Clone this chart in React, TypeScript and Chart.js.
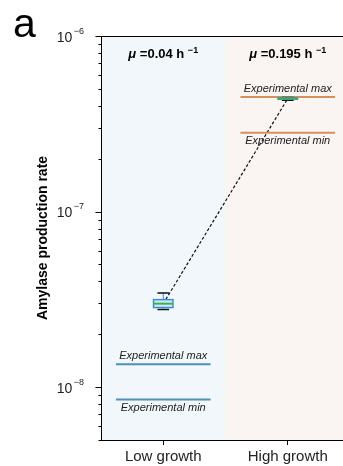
import React, { useEffect, useRef } from 'react';
import { Chart, registerables } from 'chart.js';

Chart.register(...registerables);

// ---- data ----
const CATEGORIES = ['Low growth', 'High growth'];
const MU_VALUES = ['0.04', '0.195'];
const EXP_MAX = [1.35e-8, 4.49e-7];
const EXP_MIN = [8.5e-9, 2.81e-7];
const WHISKER_LOW = [2.77e-8, 4.31e-7];
const BOX_Q1 = [2.84e-8, 4.36e-7];
const BOX_MEDIAN = [2.99e-8, 4.4e-7];
const BOX_Q3 = [3.15e-8, 4.44e-7];
const WHISKER_HIGH = [3.44e-8, 4.47e-7];
const Y_MIN = 5e-9;
const Y_MAX = 1e-6;
const Y_MAJOR_TICKS = [1e-8, 1e-7, 1e-6];
const Y_MAJOR_EXPONENTS = ['−8', '−7', '−6'];
const Y_DECADES = [1e-9, 1e-8, 1e-7];
const Y_MINOR_MULTIPLIERS = [2, 3, 4, 5, 6, 7, 8, 9];
const REF_LABELS = ['Experimental max', 'Experimental min'];
const PANEL_LETTER = 'a';
const Y_TITLE = 'Amylase production rate';

// ---- styles ----
const FONT = '"Liberation Sans", Arial, Helvetica, sans-serif';
const REGION_COLORS = ['#f1f7fa', '#faf5f2'];
const REF_COLORS = ['#4f8fba', '#d4915c'];
const REF_HALF = 0.38;
const BOX_HALF = 0.078;
const CAP_HALF = 0.047;

const decor = {
  id: 'decor',
  beforeDraw(chart: any) {
    const { ctx, chartArea: a, scales } = chart;
    const x = scales.x;
    ctx.save();
    CATEGORIES.forEach((_, i) => {
      const l = Math.max(a.left, x.getPixelForValue(i - 0.5));
      const r = Math.min(a.right, x.getPixelForValue(i + 0.5));
      ctx.fillStyle = REGION_COLORS[i];
      ctx.fillRect(l, a.top, r - l, a.bottom - a.top);
    });
    ctx.restore();
  },
  afterDatasetsDraw(chart: any) {
    const { ctx, chartArea: a, scales } = chart;
    const x = scales.x;
    const y = scales.y;
    ctx.save();
    // box plots
    CATEGORIES.forEach((_, i) => {
      const cx = x.getPixelForValue(i);
      const bh = x.getPixelForValue(i + BOX_HALF) - cx;
      const ch = x.getPixelForValue(i + CAP_HALF) - cx;
      const yWl = y.getPixelForValue(WHISKER_LOW[i]);
      const yWh = y.getPixelForValue(WHISKER_HIGH[i]);
      const yQ1 = y.getPixelForValue(BOX_Q1[i]);
      const yQ3 = y.getPixelForValue(BOX_Q3[i]);
      const yMed = y.getPixelForValue(BOX_MEDIAN[i]);
      ctx.strokeStyle = '#3a8fd4';
      ctx.lineWidth = 1;
      ctx.beginPath();
      ctx.moveTo(cx, yWl);
      ctx.lineTo(cx, yQ1);
      ctx.moveTo(cx, yQ3);
      ctx.lineTo(cx, yWh);
      ctx.stroke();
      ctx.strokeStyle = '#111';
      ctx.lineWidth = 1.5;
      ctx.beginPath();
      ctx.moveTo(cx - ch, yWl);
      ctx.lineTo(cx + ch, yWl);
      ctx.moveTo(cx - ch, yWh);
      ctx.lineTo(cx + ch, yWh);
      ctx.stroke();
      ctx.fillStyle = '#d3e7f7';
      ctx.fillRect(cx - bh, yQ3, 2 * bh, yQ1 - yQ3);
      ctx.strokeStyle = '#3a8fd4';
      ctx.lineWidth = 1.5;
      ctx.strokeRect(cx - bh, yQ3, 2 * bh, yQ1 - yQ3);
      ctx.strokeStyle = '#3cb44b';
      ctx.lineWidth = 2;
      ctx.beginPath();
      ctx.moveTo(cx - bh, yMed);
      ctx.lineTo(cx + bh, yMed);
      ctx.stroke();
    });
    // reference labels
    ctx.fillStyle = '#222';
    ctx.font = `italic 11px ${FONT}`;
    ctx.textAlign = 'center';
    ctx.textBaseline = 'alphabetic';
    CATEGORIES.forEach((_, i) => {
      const cx = x.getPixelForValue(i);
      ctx.fillText(REF_LABELS[0], cx, y.getPixelForValue(EXP_MAX[i]) - 5);
      ctx.fillText(REF_LABELS[1], cx, y.getPixelForValue(EXP_MIN[i]) + 11);
    });
    // mu titles
    ctx.fillStyle = '#000';
    ctx.textAlign = 'left';
    CATEGORIES.forEach((_, i) => {
      const cx = x.getPixelForValue(i);
      const pieces = [
        { t: 'μ', f: `italic bold 13px ${FONT}`, dy: 0 },
        { t: ' =' + MU_VALUES[i] + ' h ', f: `bold 13px ${FONT}`, dy: 0 },
        { t: '−1', f: `bold 9px ${FONT}`, dy: -5 },
      ];
      let total = 0;
      const ws = pieces.map((p) => {
        ctx.font = p.f;
        const w = ctx.measureText(p.t).width;
        total += w;
        return w;
      });
      let px = cx - total / 2;
      const base = a.top + 22;
      pieces.forEach((p, k) => {
        ctx.font = p.f;
        ctx.fillText(p.t, px, base + p.dy);
        px += ws[k];
      });
    });
    ctx.restore();
  },
  afterDraw(chart: any) {
    const { ctx, chartArea: a, scales } = chart;
    const y = scales.y;
    ctx.save();
    ctx.strokeStyle = '#000';
    ctx.lineWidth = 1;
    // top and right spines
    ctx.beginPath();
    ctx.moveTo(a.left, Math.round(a.top) + 0.5);
    ctx.lineTo(a.right, Math.round(a.top) + 0.5);
    ctx.moveTo(Math.round(a.right) - 0.5, a.top);
    ctx.lineTo(Math.round(a.right) - 0.5, a.bottom);
    ctx.stroke();
    // y ticks
    const lx = Math.round(a.left) + 0.5;
    ctx.beginPath();
    Y_MAJOR_TICKS.forEach((v) => {
      const py = Math.round(y.getPixelForValue(v)) + 0.5;
      ctx.moveTo(lx - 6, py);
      ctx.lineTo(lx, py);
    });
    Y_DECADES.forEach((d) => {
      Y_MINOR_MULTIPLIERS.forEach((m) => {
        const v = d * m;
        if (v < Y_MIN || v > Y_MAX) return;
        const py = Math.round(y.getPixelForValue(v)) + 0.5;
        ctx.moveTo(lx - 3, py);
        ctx.lineTo(lx, py);
      });
    });
    ctx.stroke();
    // y tick labels
    ctx.fillStyle = '#222';
    ctx.textBaseline = 'alphabetic';
    ctx.textAlign = 'left';
    Y_MAJOR_TICKS.forEach((v, k) => {
      const py = y.getPixelForValue(v);
      const right = a.left - 17;
      ctx.font = `9px ${FONT}`;
      const we = ctx.measureText(Y_MAJOR_EXPONENTS[k]).width;
      ctx.fillText(Y_MAJOR_EXPONENTS[k], right - we, py - 2.5);
      ctx.font = `14px ${FONT}`;
      const wb = ctx.measureText('10').width;
      ctx.fillText('10', right - we - 1.5 - wb, py + 5.5);
    });
    // y title
    ctx.save();
    ctx.translate(43, (a.top + a.bottom) / 2);
    ctx.rotate(-Math.PI / 2);
    ctx.font = `bold 14px ${FONT}`;
    ctx.fillStyle = '#000';
    ctx.textAlign = 'center';
    ctx.textBaseline = 'middle';
    ctx.fillText(Y_TITLE, 0, 0);
    ctx.restore();
    // panel letter
    ctx.font = `41px ${FONT}`;
    ctx.fillStyle = '#000';
    ctx.textAlign = 'left';
    ctx.fillText(PANEL_LETTER, 13, 37);
    ctx.restore();
  },
};

export default function App() {
  const ref = useRef<HTMLCanvasElement | null>(null);
  useEffect(() => {
    if (!ref.current) return;
    const datasets: any[] = [];
    CATEGORIES.forEach((_, i) => {
      [EXP_MAX[i], EXP_MIN[i]].forEach((v) => {
        datasets.push({
          data: [
            { x: i - REF_HALF, y: v },
            { x: i + REF_HALF, y: v },
          ],
          borderColor: REF_COLORS[i],
          borderWidth: 2,
          pointRadius: 0,
        });
      });
    });
    datasets.push({
      data: CATEGORIES.map((_, i) => ({ x: i, y: BOX_MEDIAN[i] })),
      borderColor: '#111',
      borderWidth: 1.2,
      borderDash: [3, 2],
      pointRadius: 0,
    });
    const chart = new Chart(ref.current, {
      type: 'line',
      data: { datasets },
      plugins: [decor],
      options: {
        responsive: false,
        animation: false,
        devicePixelRatio: 1,
        layout: { padding: { left: 0, top: 36, right: 0, bottom: 0 } },
        plugins: { legend: { display: false }, tooltip: { enabled: false } },
        scales: {
          x: {
            type: 'linear',
            min: -0.5,
            max: 1.5,
            afterBuildTicks: (s: any) => {
              s.ticks = CATEGORIES.map((_, i) => ({ value: i }));
            },
            afterFit: (s: any) => {
              s.height = 26;
            },
            ticks: {
              autoSkip: false,
              maxRotation: 0,
              padding: 3,
              color: '#222',
              font: { family: FONT, size: 15 },
              callback: (v: any) => CATEGORIES[v] ?? '',
            },
            grid: { drawOnChartArea: false, drawTicks: true, tickLength: 5, color: '#000' },
            border: { display: true, color: '#000', width: 1 },
          },
          y: {
            type: 'logarithmic',
            min: Y_MIN,
            max: Y_MAX,
            afterFit: (s: any) => {
              s.width = 101;
            },
            ticks: { display: false },
            grid: { display: false },
            border: { display: true, color: '#000', width: 1 },
          },
        },
      } as any,
    });
    return () => chart.destroy();
  }, []);
  return (
    <div
      style={{
        position: 'fixed',
        left: 0,
        top: 0,
        width: 343,
        height: 466,
        overflow: 'hidden',
        background: '#fff',
      }}
    >
      <canvas ref={ref} width={350} height={466} style={{ display: 'block' }} />
    </div>
  );
}
